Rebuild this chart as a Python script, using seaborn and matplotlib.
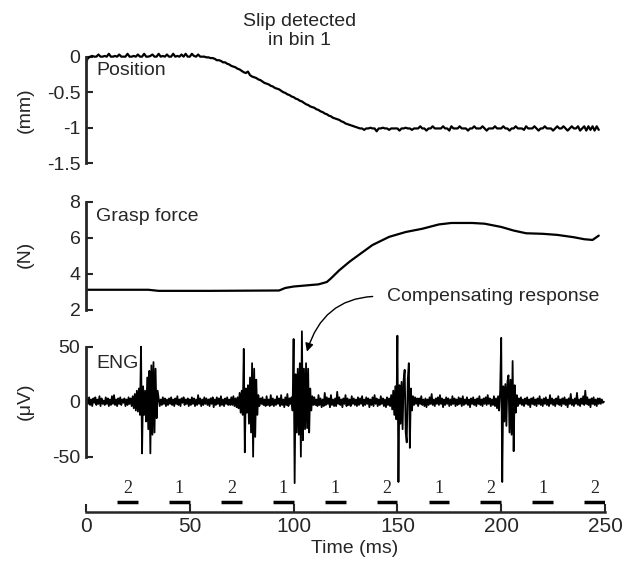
import numpy as np
import seaborn as sns
import matplotlib.pyplot as plt

# ---- values ----
# position trace, one sample per ms (0 .. 247 ms)
pos_mm = [-0.07, -0.02, 0.00, 0.01, 0.00, 0.00, 0.03, 0.00, 0.00, 0.01,
          0.00, 0.04, 0.00, 0.00, 0.01, 0.00, 0.03, 0.00, 0.00, 0.00,
          0.04, 0.00, 0.00, 0.01, 0.00, 0.03, 0.00, 0.00, 0.04, 0.00,
          0.00, 0.01, 0.03, 0.00, 0.00, 0.04, 0.00, 0.01, 0.00, 0.03,
          0.00, 0.00, 0.04, 0.00, 0.01, 0.00, 0.03, 0.00, 0.04, 0.00,
          0.00, 0.04, 0.01, 0.00, 0.03, 0.00, 0.00, 0.00, -0.01, -0.01,
          -0.02, -0.02, -0.03, -0.05, -0.05, -0.06, -0.08, -0.08, -0.10, -0.11,
          -0.13, -0.14, -0.15, -0.17, -0.18, -0.20, -0.22, -0.23, -0.21, -0.26,
          -0.28, -0.29, -0.30, -0.32, -0.33, -0.35, -0.37, -0.38, -0.39, -0.41,
          -0.42, -0.44, -0.45, -0.46, -0.48, -0.50, -0.51, -0.53, -0.54, -0.56,
          -0.57, -0.59, -0.60, -0.62, -0.63, -0.65, -0.67, -0.68, -0.70, -0.71,
          -0.72, -0.74, -0.75, -0.77, -0.78, -0.80, -0.81, -0.83, -0.84, -0.86,
          -0.87, -0.88, -0.89, -0.91, -0.92, -0.94, -0.95, -0.96, -0.97, -0.98,
          -0.99, -1.00, -1.01, -1.01, -1.03, -1.01, -1.01, -1.00, -1.01, -1.01,
          -1.05, -1.01, -1.01, -1.00, -1.01, -1.01, -1.03, -1.01, -1.01, -1.01,
          -1.01, -1.04, -1.01, -1.01, -1.00, -1.01, -1.01, -1.03, -1.01, -1.01,
          -1.01, -0.98, -1.01, -1.01, -1.04, -1.01, -1.01, -0.98, -1.01, -1.01,
          -1.01, -1.01, -0.98, -1.01, -1.01, -1.04, -0.98, -1.01, -1.01, -1.01,
          -0.98, -1.01, -1.01, -1.01, -1.04, -1.01, -1.01, -0.98, -1.01, -1.01,
          -1.01, -0.98, -1.01, -1.04, -1.01, -1.01, -1.01, -0.98, -1.01, -1.01,
          -1.01, -0.98, -1.01, -1.01, -1.04, -1.01, -1.01, -0.98, -1.01, -1.01,
          -1.01, -1.03, -0.98, -1.01, -1.01, -1.01, -0.98, -1.01, -1.04, -1.01,
          -1.01, -0.98, -1.01, -1.01, -1.01, -1.04, -1.01, -0.98, -1.01, -1.01,
          -0.98, -1.01, -1.04, -1.01, -0.98, -1.01, -1.01, -0.98, -1.04, -1.01,
          -0.98, -1.04, -0.98, -1.03, -0.98, -1.04, -0.98, -1.03]
pos_time = np.arange(len(pos_mm))

# grasp force
force_time = [0, 30, 35, 60, 93, 96, 100, 112, 116, 118, 122, 127, 132, 138,
              146, 154, 162, 170, 176, 186, 192, 200, 206, 212, 220, 227,
              235, 240, 244, 247]
force_n = [3.12, 3.12, 3.06, 3.06, 3.08, 3.22, 3.30, 3.42, 3.55, 3.75, 4.20,
           4.68, 5.10, 5.60, 6.05, 6.32, 6.50, 6.74, 6.82, 6.82, 6.78, 6.60,
           6.40, 6.25, 6.22, 6.16, 6.03, 5.92, 5.88, 6.12]

# ENG, one sample every 0.5 ms (0 .. 249.5 ms)
eng_uv = [0, 3, -2, 4, -3, 2, -4, 3, -1, 4, -3, 2, -2, 5, -4, 3, -2, 1, -3, 4,
          -2, 3, -4, 2, -3, 5, -2, 6, -3, 2, -4, 3, -2, 4, -3, 2, -1, 3, -4, 2,
          -3, 4, -2, 3, -4, 5, -6, 7, -8, 10, -9, 12, -12, 50, -47, 14, -12, 10, -18, 22,
          -25, 28, -47, 33, -30, 36, -28, 30, -15, 10, 3, -4, 2, -3, 4, -2, 3, -4, 2, -3,
          3, -2, 4, -3, 2, -4, 3, -2, 5, -3, 2, -4, 3, -1, 4, -3, 2, -2, 3, -4,
          2, -3, 4, -2, 3, -4, 2, -3, 6, -2, 3, -4, 2, -3, 4, -2, 3, -3, 2, -4,
          3, -2, 4, -5, 2, -3, 4, -2, 3, -4, 5, -3, 2, -4, 3, -2, 4, -3, 2, -3,
          4, -3, 5, -4, 3, -5, 4, -6, 8, -10, 10, -12, 48, -46, 12, -10, 15, -20, 22, -28,
          35, -50, 30, -32, 20, -12, 6, -4, 3, -2, 4, -3, 2, -4, 5, -3, 2, -4, 6, -3,
          3, -4, 2, -3, 5, -2, 3, -4, 6, -3, 2, -5, 4, -3, 7, -4, 3, -2, 4, -8,
          57, -74, 25, -28, 30, -30, 35, -50, 64, -35, 30, -25, 35, -24, 30, -28, 12, -8, 5, -3,
          4, -3, 2, -4, 6, -3, 3, -5, 2, -4, 8, -3, 4, -2, 3, -5, 6, -3, 2, -4,
          3, -4, 9, -2, 4, -3, 2, -5, 3, -2, 6, -4, 3, -3, 2, -4, 5, -2, 3, -3,
          2, -4, 4, -3, 3, -2, 5, -4, 2, -3, 4, -2, 3, -5, 2, -3, 4, -4, 6, -2,
          3, -4, 2, -3, 5, -2, 3, -4, 2, -5, 4, -3, 3, -4, 6, -7, 10, -12, 14, -16,
          60, -73, 15, -20, 18, -25, 20, 29, -28, -37, 20, 35, -42, 12, -8, 5, -3, 4, -2, 3,
          -4, 3, -2, 5, -3, 2, -4, 3, -5, 2, -3, 4, -2, 7, -3, 2, -4, 3, -2, 4,
          -3, 6, -2, 3, -5, 2, -3, 4, -2, 3, -4, 2, -3, 5, -2, 3, -4, 2, -3, 4,
          -2, 3, -4, 5, -3, 2, -2, 4, -3, 2, -5, 3, -2, 4, -3, 2, -4, 3, -2, 5,
          -3, 2, -4, 3, -2, 4, -3, 6, -2, 3, -4, 2, -3, 5, -4, 3, -6, 5, -8, 10,
          58, -73, 14, -18, 16, -22, 18, 24, -28, 20, -30, 37, -45, 15, -10, 6, -4, 3, -2, 4,
          -3, 2, -4, 3, -2, 4, -3, 2, -5, 3, -2, 4, -3, 2, -4, 3, -2, 5, -3, 2,
          -4, 3, -2, 4, -3, 2, -4, 6, -2, 3, -3, 2, -4, 3, -2, 5, -3, 2, -4, 3,
          -2, 4, -3, 2, -5, 3, -2, 7, -3, 2, -4, 3, -2, 8, -3, 2, -4, 3, -2, 5,
          -3, 10, -2, 4, -3, 2, -5, 3, -2, 4, -3, 2, -4, 3, -2, 3, -2, 2, -1, 0]
eng_time = np.arange(len(eng_uv)) * 0.5

# analysis bins under the trace (start in ms, 10 ms wide)
bin_start = [15, 40, 65, 90, 115, 140, 165, 190, 215, 240]
bin_label = ['2', '1', '2', '1', '1', '2', '1', '2', '1', '2']
bin_width = 10

x_ticks = [0, 50, 100, 150, 200, 250]

#%% style
sns.set_style("ticks")
plt.rcParams['font.family'] = ['Liberation Sans', 'DejaVu Sans']
plt.rcParams['axes.unicode_minus'] = False
plt.rcParams['font.size'] = 14

fig = plt.figure(figsize=(6.31, 5.63), dpi=100)
left, width = 86 / 631, 519 / 631
ax_pos = fig.add_axes([left, 0.710, width, 0.202])
ax_frc = fig.add_axes([left, 0.4494, width, 0.1988])
ax_eng = fig.add_axes([left, 0.0911, width, 0.3322])

for ax in (ax_pos, ax_frc, ax_eng):
    ax.set_xlim(0, 250)
    sns.despine(ax=ax, top=True, right=True, bottom=True)
    ax.spines['left'].set_linewidth(2)
    ax.tick_params(axis='y', direction='in', length=5, width=1.5, pad=4,
                   labelsize=14)
    ax.set_xticks([])
    ax.set_facecolor('none')

#%% position
sns.lineplot(x=pos_time, y=pos_mm, ax=ax_pos, color='black', lw=1.6,
             estimator=None)
ax_pos.set_ylim(-1.5, 0.1)
ax_pos.spines['left'].set_bounds(-1.5, 0)
ax_pos.set_yticks([0, -0.5, -1, -1.5])
ax_pos.set_yticklabels(['0', '-0.5', '-1', '-1.5'])
ax_pos.text(5, -0.19, 'Position', ha='left', va='center', fontsize=14)
ax_pos.text(103, 0.36, 'Slip detected\nin bin 1', ha='center', va='center',
            fontsize=14, clip_on=False)

#%% grasp force
sns.lineplot(x=force_time, y=force_n, ax=ax_frc, color='black', lw=1.6,
             estimator=None)
ax_frc.set_ylim(2, 8.2)
ax_frc.spines['left'].set_bounds(2, 8)
ax_frc.set_yticks([2, 4, 6, 8])
ax_frc.text(5, 7.17, 'Grasp force', ha='left', va='center', fontsize=14)

#%% ENG
sns.lineplot(x=eng_time, y=eng_uv, ax=ax_eng, color='black', lw=1.3,
             estimator=None)
ax_eng.set_ylim(-100, 70)
ax_eng.spines['left'].set_bounds(-50, 50)
ax_eng.set_yticks([-50, 0, 50])
ax_eng.text(5, 35, 'ENG', ha='left', va='center', fontsize=14)

# time axis at the bottom of the ENG panel
ax_eng.spines['bottom'].set_visible(True)
ax_eng.spines['bottom'].set_linewidth(1.8)
ax_eng.spines['bottom'].set_bounds(0, 250)
ax_eng.set_xticks(x_ticks)
ax_eng.tick_params(axis='x', direction='in', length=6, width=1.5, pad=4,
                   labelsize=15)
ax_eng.text(0.518, -0.198, 'Time (ms)', ha='center', va='center',
            fontsize=14, transform=ax_eng.transAxes, clip_on=False)

# bins
for start, lab in zip(bin_start, bin_label):
    ax_eng.hlines(-91, start, start + bin_width, color='black', lw=2.5)
    ax_eng.text(start + bin_width / 2, -87, lab, ha='center', va='bottom',
                fontsize=13, family='Liberation Serif')

# compensating response annotation
ax_eng.annotate('Compensating response', xy=(106.4, 45.5), xytext=(145, 95.5),
                ha='left', va='center', fontsize=14, annotation_clip=False,
                arrowprops=dict(arrowstyle='-|>', color='black', lw=1.0,
                                connectionstyle='arc3,rad=0.4',
                                relpos=(0, 0.5), shrinkA=8, shrinkB=0,
                                mutation_scale=12))

# unit labels
for ax, yc, lab in ((ax_pos, -0.75, '(mm)'), (ax_frc, 5.1, '(N)'),
                    (ax_eng, 0, '(μV)')):
    ax.text(-0.1175, yc, lab, rotation=90, ha='center', va='center',
            fontsize=14, transform=ax.get_yaxis_transform(), clip_on=False)

fig.savefig('out.png', dpi=100)
